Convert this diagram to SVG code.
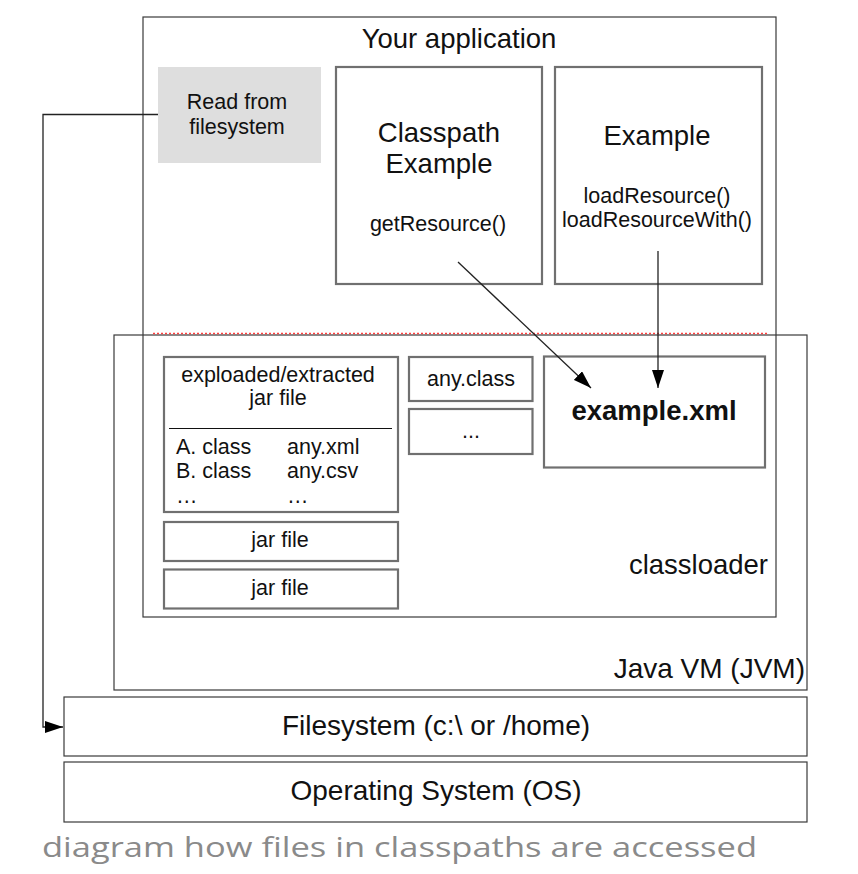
<svg xmlns="http://www.w3.org/2000/svg" width="858" height="874" viewBox="0 0 858 874">
<defs>
<style>
text{font-family:"Liberation Sans",Arial,sans-serif;fill:#111;}
.outer{fill:none;stroke:#3a3a3a;stroke-width:1.2;}
.inner{fill:#fff;stroke:#707070;stroke-width:2.2;}
.t27{font-size:27.5px;}
.t28{font-size:28px;}
.t21{font-size:21.5px;}
.mid{text-anchor:middle;}
.conn{fill:none;stroke:#222;stroke-width:1.3;}
</style>
<marker id="arr" viewBox="0 0 18 12" refX="18" refY="6" markerWidth="18" markerHeight="12" markerUnits="userSpaceOnUse" orient="auto">
<path d="M0,0 L18,6 L0,12 Z" fill="#000"/>
</marker>
</defs>
<rect width="858" height="874" fill="#fff"/>

<g id="jvm">
<rect class="outer" x="114" y="335" width="693" height="355"/>
<text class="t28" x="805" y="678" text-anchor="end">Java VM (JVM)</text>
</g>

<g id="application">
<rect class="outer" x="143" y="17" width="633" height="600" fill="#fff"/>
<text class="t27 mid" x="459" y="48">Your application</text>
<line x1="153" y1="333.5" x2="768" y2="333.5" stroke="#ff4040" stroke-width="1.3" stroke-dasharray="2,2"/>
<text class="t27" x="768" y="574" text-anchor="end">classloader</text>
</g>

<g id="read-from-filesystem">
<rect x="158" y="67" width="163" height="96" fill="#dedede"/>
<text class="t21 mid" x="237" y="109">Read from</text>
<text class="t21 mid" x="237" y="134">filesystem</text>
</g>

<g id="classpath-example">
<rect class="inner" x="336" y="67" width="206" height="217"/>
<text class="t27 mid" x="439" y="142">Classpath</text>
<text class="t27 mid" x="439" y="173">Example</text>
<text class="t21 mid" x="438" y="231">getResource()</text>
</g>

<g id="example">
<rect class="inner" x="555" y="67" width="207" height="217"/>
<text class="t27 mid" x="657" y="145">Example</text>
<text class="t21 mid" x="657" y="203">loadResource()</text>
<text class="t21 mid" x="657" y="227">loadResourceWith()</text>
</g>

<g id="exploded-jar">
<rect class="inner" x="164" y="357" width="234" height="155"/>
<text class="t21 mid" x="278" y="382">exploaded/extracted</text>
<text class="t21 mid" x="278" y="405">jar file</text>
<line x1="169" y1="428.5" x2="392" y2="428.5" stroke="#111" stroke-width="1.2"/>
<text class="t21" x="176" y="454">A. class</text>
<text class="t21" x="287" y="454">any.xml</text>
<text class="t21" x="176" y="478">B. class</text>
<text class="t21" x="287" y="478">any.csv</text>
<text class="t21" x="176" y="503">…</text>
<text class="t21" x="287" y="503">…</text>
</g>

<g id="jar-file-1">
<rect class="inner" x="164" y="522" width="234" height="39"/>
<text class="t21 mid" x="280" y="547">jar file</text>
</g>

<g id="jar-file-2">
<rect class="inner" x="164" y="569.5" width="234" height="39"/>
<text class="t21 mid" x="280" y="595">jar file</text>
</g>

<g id="any-class">
<rect class="inner" x="409" y="357" width="123.5" height="44"/>
<text class="t21 mid" x="471" y="386">any.class</text>
</g>

<g id="more">
<rect class="inner" x="409" y="409" width="123.5" height="45"/>
<text class="t21 mid" x="471" y="438">...</text>
</g>

<g id="example-xml">
<rect class="inner" x="544" y="356.5" width="221" height="111"/>
<text class="t27 mid" x="654" y="420" font-weight="bold">example.xml</text>
</g>

<g id="filesystem">
<rect class="outer" x="64" y="697" width="743" height="59"/>
<text class="t28 mid" x="436" y="735">Filesystem (c:\ or /home)</text>
</g>

<g id="os">
<rect class="outer" x="64" y="762" width="743" height="60"/>
<text class="t28 mid" x="436" y="800">Operating System (OS)</text>
</g>

<g id="connectors">
<line class="conn" x1="458" y1="262" x2="591" y2="388" marker-end="url(#arr)"/>
<line class="conn" x1="658" y1="251" x2="658" y2="388" marker-end="url(#arr)"/>
<polyline class="conn" points="158,114.5 43,114.5 43,727 63,727" marker-end="url(#arr)"/>
</g>

<text x="42" y="857" font-size="28" style="font-family:'Open Sans',Lato,sans-serif;fill:#8a8a8a" textLength="715" lengthAdjust="spacingAndGlyphs">diagram how files in classpaths are accessed</text>
</svg>
